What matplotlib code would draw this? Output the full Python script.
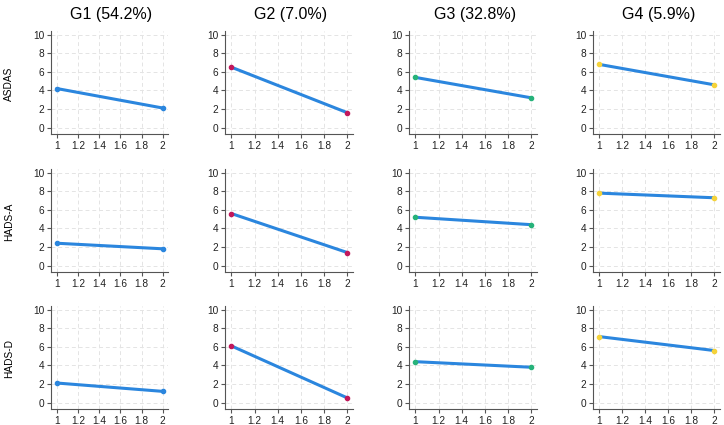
import matplotlib
matplotlib.use("Agg")
import matplotlib.pyplot as plt

plt.rcParams['font.family'] = ['Liberation Sans', 'DejaVu Sans']

# data
groups = ["G1 (54.2%)", "G2 (7.0%)", "G3 (32.8%)", "G4 (5.9%)"]
measures = ["ASDAS", "HADS-A", "HADS-D"]
times = [1, 2]

g1 = [[4.2, 2.1], [2.4, 1.8], [2.1, 1.2]]
g2 = [[6.5, 1.6], [5.6, 1.4], [6.1, 0.5]]
g3 = [[5.4, 3.2], [5.2, 4.4], [4.4, 3.8]]
g4 = [[6.8, 4.6], [7.8, 7.3], [7.1, 5.6]]
group_values = [g1, g2, g3, g4]

x_ticks = [1, 1.2, 1.4, 1.6, 1.8, 2]
x_ticklabels = ["1", "1.2", "1.4", "1.6", "1.8", "2"]
y_ticks = [0, 2, 4, 6, 8, 10]

line_color = "#2b86de"
marker_colors = ["#2b86de", "#c2185b", "#26b27a", "#f5d33a"]

W, H = 724, 425
fig = plt.figure(figsize=(W / 100, H / 100), dpi=100)

# panel placement in pixels: (left spine, right edge) per column, top per row
col_px = [(51, 168), (225, 353), (409, 537), (593, 720)]
row_top = [31, 169, 306]
panel_h = 103

for r, measure in enumerate(measures):
    for c, grp in enumerate(groups):
        x0, x1 = col_px[c]
        ax = fig.add_axes([x0 / W, 1 - (row_top[r] + panel_h) / H,
                           (x1 - x0) / W, panel_h / H])
        vals = group_values[c][r]
        ax.plot(times, vals, color=line_color, lw=2.2, zorder=3,
                solid_capstyle="round")
        ax.plot(times, vals, "o", color=marker_colors[c], ms=3.0, zorder=4)

        ax.set_xlim(0.945, 2.05)
        ax.set_ylim(-0.7, 10.4)
        ax.set_xticks(x_ticks)
        ax.set_xticklabels(x_ticklabels)
        ax.set_yticks(y_ticks)
        ax.tick_params(labelsize=7.3, colors="#222222", length=3, width=0.8,
                       pad=2)
        ax.tick_params(axis="both", color="#555555")
        ax.grid(True, color="#e4e4e4", ls=(0, (4, 3)), lw=0.7)
        ax.set_axisbelow(True)
        for s in ["top", "right"]:
            ax.spines[s].set_visible(False)
        for s in ["left", "bottom"]:
            ax.spines[s].set_color("#555555")
            ax.spines[s].set_linewidth(0.8)

        if r == 0:
            fig.text(((x0 + x1) / 2 + 2) / W, 1 - 14 / H, grp,
                     ha="center", va="center", fontsize=11.5)
    # row label on the left
    fig.text(9 / W, 1 - (row_top[r] + 53) / H, measure, rotation=90,
             ha="center", va="center", fontsize=7.3)

fig.savefig("out.png", dpi=100, facecolor="white")
